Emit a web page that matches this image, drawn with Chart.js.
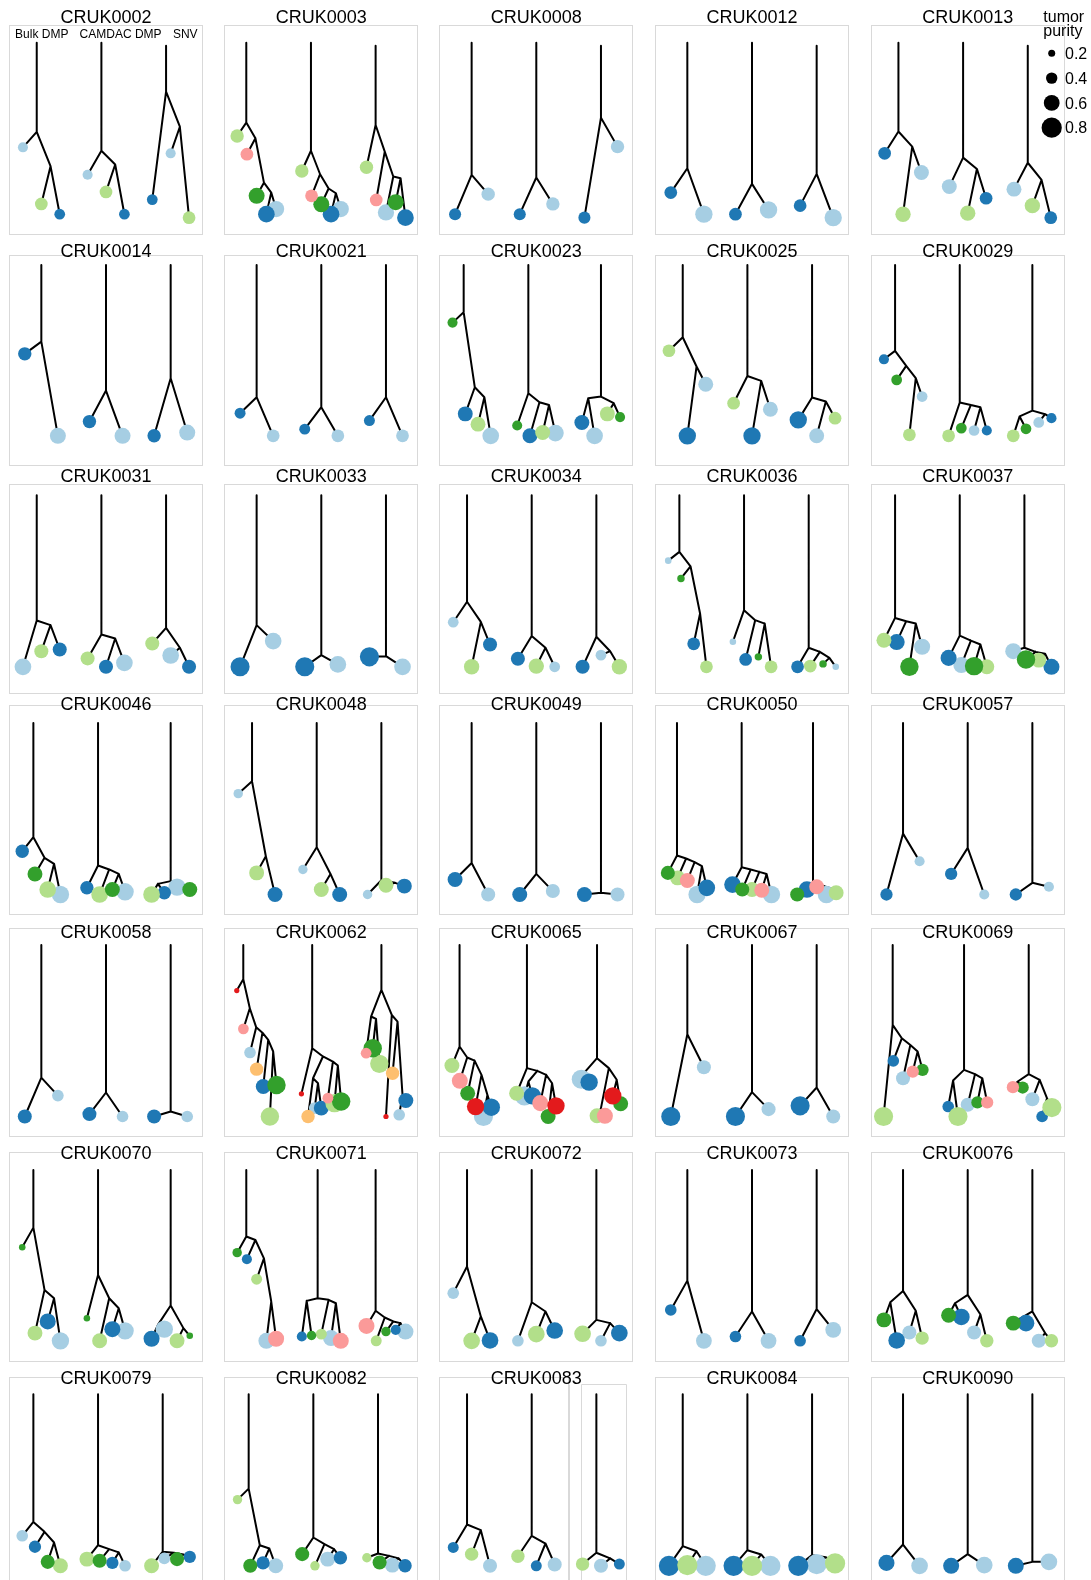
<!DOCTYPE html>
<html>
<head>
<meta charset="utf-8">
<title>Phylogenies per patient: Bulk DMP, CAMDAC DMP and SNV trees</title>
<script src="https://cdn.jsdelivr.net/npm/chart.js@4.4.1/dist/chart.umd.min.js"></script>
<style>
  html, body { margin: 0; padding: 0; background: #fff; overflow: hidden; }
  #fig { position: relative; width: 1091px; height: 1580px; overflow: hidden; background: #fff; }
  #fig canvas { position: absolute; }
</style>
</head>
<body>
<div id="fig"></div>
<script>
// ---------------- data ----------------
const patients = [
  'CRUK0002','CRUK0003','CRUK0008','CRUK0012','CRUK0013',
  'CRUK0014','CRUK0021','CRUK0023','CRUK0025','CRUK0029',
  'CRUK0031','CRUK0033','CRUK0034','CRUK0036','CRUK0037',
  'CRUK0046','CRUK0048','CRUK0049','CRUK0050','CRUK0057',
  'CRUK0058','CRUK0062','CRUK0065','CRUK0067','CRUK0069',
  'CRUK0070','CRUK0071','CRUK0072','CRUK0073','CRUK0076',
  'CRUK0079','CRUK0082','CRUK0083','CRUK0084','CRUK0090'
];
const methodNames = ['Bulk DMP', 'CAMDAC DMP', 'SNV'];
// tumour region colours, region 1..7
const regionColors = ['#a6cee3', '#1f78b4', '#b2df8a', '#33a02c', '#fb9a99', '#e31a1c', '#fdbf6f'];
const purityTicks = [0.2, 0.4, 0.6, 0.8];

// tumour purity of each region (index = region - 1), one list per patient
const purities = [
  [0.34, 0.37, 0.46],
  [0.62, 0.64, 0.49, 0.61, 0.46],
  [0.49, 0.43],
  [0.67, 0.46],
  [0.56, 0.46, 0.58],
  [0.61, 0.49],
  [0.46, 0.38],
  [0.64, 0.56, 0.56, 0.34],
  [0.56, 0.67, 0.46],
  [0.37, 0.34, 0.46, 0.37],
  [0.64, 0.52, 0.52],
  [0.64, 0.75],
  [0.37, 0.52, 0.58],
  [0.18, 0.46, 0.46, 0.22],
  [0.61, 0.61, 0.56, 0.72],
  [0.67, 0.49, 0.64, 0.56],
  [0.31, 0.56, 0.56],
  [0.52, 0.56],
  [0.67, 0.64, 0.56, 0.52, 0.56],
  [0.34, 0.44],
  [0.41, 0.52],
  [0.41, 0.56, 0.72, 0.72, 0.37, 0.12, 0.49],
  [0.75, 0.67, 0.56, 0.56, 0.61, 0.67],
  [0.52, 0.75],
  [0.52, 0.41, 0.75, 0.44, 0.44],
  [0.67, 0.61, 0.56, 0.18],
  [0.61, 0.34, 0.38, 0.31, 0.61],
  [0.41, 0.64, 0.64],
  [0.60, 0.41],
  [0.52, 0.64, 0.49, 0.56],
  [0.41, 0.44, 0.56, 0.52],
  [0.56, 0.49, 0.31, 0.52],
  [0.52, 0.38, 0.49],
  [0.80, 0.80, 0.80],
  [0.64, 0.61]
];

// Trees in a Newick-like form: leaves are region numbers, the value after ':'
// is the depth of the node below the root (0 = top of trunk, 1 = deepest tip).
const bulkTrees = [
  '(1:0.61,(3:0.94,2:1):0.72):0.52',
  '(3:0.544,(5:0.65,(4:0.893,(2:1,1:0.97):0.874):0.816):0.557):0.466',
  '(2:1,1:0.883):0.771',
  '(2:0.874,1:1):0.732',
  '(2:0.645,(3:1,1:0.757):0.606):0.518',
  '(2:0.518,1:0.996):0.447',
  '(2:0.864,1:0.996):0.771',
  '(4:0.336,(2:0.868,(3:0.928,1:0.996):0.771):0.713):0.276',
  '(3:0.5,(2:0.996,1:0.695):0.592):0.421',
  '(2:0.55,(4:0.67,(3:0.99,1:0.767):0.66):0.588):0.501',
  '(1:1,(3:0.909,2:0.899):0.757):0.73',
  '(2:1,1:0.85):0.757',
  '(1:0.74,(3:1,2:0.87):0.738):0.621',
  '(1:0.381,(4:0.485,(2:0.866,3:1):0.689):0.414):0.33',
  '(3:0.845,(2:0.856,(4:1,1:0.883):0.748):0.734):0.715',
  '(2:0.748,(4:0.88,(3:0.971,1:1):0.821):0.786):0.666',
  '(1:0.412,(3:0.874,2:1):0.777):0.34',
  '(2:0.913,1:1):0.816',
  '(4:0.874,(3:0.903,(5:0.918,(1:1,2:0.961):0.835):0.811):0.79):0.773',
  '(2:1,1:0.806):0.645',
  '(2:1,1:0.878):0.773',
  '(6:0.266,(5:0.489,(1:0.627,(7:0.724,(2:0.825,(3:1,4:0.816):0.621):0.553):0.511):0.48):0.369):0.2',
  '(3:0.703,(5:0.792,(4:0.864,(6:0.942,(1:1,2:0.946):0.874):0.757):0.674):0.656):0.592',
  '(2:1,1:0.713):0.52',
  '(3:1,(2:0.676,(1:0.777,(5:0.738,4:0.728):0.621):0.583):0.544):0.466',
  '(4:0.45,(3:0.951,(2:0.883,1:0.996):0.748):0.699):0.336',
  '(4:0.482,(2:0.52,(3:0.637,(1:0.996,5:0.984):0.767):0.515):0.408):0.388',
  '(1:0.718,(3:0.996,2:0.994):0.854):0.563',
  '(2:0.816,1:0.996):0.645',
  '((4:0.874,2:0.994):0.771,(1:0.948,3:0.98):0.821):0.705',
  '(1:0.825,(2:0.889,(4:0.977,3:1):0.864):0.802):0.744',
  '(3:0.614,(4:1,(2:0.983,1:1):0.899):0.88):0.55',
  '(2:0.893,(3:0.932,1:1):0.792):0.759',
  '(2:1,(3:0.996,1:1):0.915):0.885',
  '(2:0.983,1:1):0.876'
];
const camdacTrees = [
  '(1:0.77,(3:0.87,2:1):0.71):0.63',
  '(3:0.748,(5:0.893,(4:0.942,(2:1,1:0.97):0.878):0.85):0.767):0.63',
  '(2:1,1:0.94):0.786',
  '(2:1,1:0.975):0.823',
  '(1:0.839,(3:0.994,2:0.907):0.736):0.67',
  '(2:0.913,1:0.996):0.732',
  '(2:0.957,1:0.996):0.829',
  '(4:0.936,(2:0.996,(3:0.977,1:0.98):0.816):0.8):0.748',
  '(3:0.806,(2:0.996,1:0.841):0.676):0.647',
  '(3:0.996,(4:0.951,(1:0.965,2:0.965):0.829):0.816):0.802',
  '(3:0.951,(2:1,1:0.977):0.835):0.812',
  '(2:1,1:0.986):0.932',
  '(2:0.953,(3:0.996,1:1):0.889):0.821',
  '(1:0.854,(2:0.957,(4:0.942,3:1):0.748):0.728):0.67',
  '(2:0.948,(1:0.99,(4:0.996,3:1):0.87):0.847):0.818',
  '(2:0.961,(3:1,(4:0.971,1:0.984):0.88):0.854):0.831',
  '(1:0.854,(3:0.971,2:1):0.88):0.724',
  '(2:1,1:0.98):0.88',
  '(2:0.942,(4:0.971,(3:0.971,(5:0.975,1:1):0.88):0.868):0.854):0.841',
  '(2:0.88,1:1):0.728',
  '(2:0.986,1:1):0.86',
  '(6:0.868,((7:1,(1:0.951,2:0.951):0.806):0.777,(5:0.893,(3:0.922,4:0.913):0.703):0.68):0.65):0.602',
  '(3:0.864,((1:0.88,2:0.88):0.796,(5:0.922,(4:1,6:0.938):0.806):0.757):0.734):0.718',
  '(2:1,1:0.957):0.858',
  '((2:0.942,3:1):0.79,(1:0.932,(4:0.918,5:0.918):0.777):0.753):0.728',
  '(4:0.864,(3:0.996,(2:0.928,1:0.938):0.806):0.748):0.612',
  '((2:0.971,4:0.965):0.763,(3:0.957,(1:0.98,5:0.996):0.777):0.757):0.748',
  '(1:0.996,(3:0.957,2:0.936):0.825):0.771',
  '(2:0.971,1:0.996):0.825',
  '((4:0.847,2:0.857):0.777,(1:0.948,3:0.996):0.843):0.728',
  '(3:0.961,(4:0.971,(2:0.983,1:1):0.922):0.903):0.88',
  '(4:0.932,(3:1,(1:0.961,2:0.953):0.903):0.874):0.835',
  '(3:0.944,(2:1,1:0.992):0.87):0.825',
  '(2:1,(3:1,1:1):0.934):0.909',
  '(2:1,1:0.996):0.932'
];
const snvTrees = [
  '(2:0.915,(1:0.645,3:1.02):0.49):0.285',
  '(3:0.726,(5:0.917,(1:0.99,(4:0.93,2:1.02):0.79):0.78):0.635):0.48',
  '(2:1.02,1:0.606):0.437',
  '(2:0.95,1:1.02):0.765',
  '(1:0.854,(3:0.95,2:1.02):0.8):0.7',
  '(2:0.996,1:0.977):0.66',
  '(2:0.907,1:0.996):0.771',
  '((2:0.918,1:0.996):0.777,(3:0.868,4:0.887):0.806):0.767',
  '(2:0.903,(1:0.996,3:0.893):0.796):0.773',
  '((3:0.996,4:0.955):0.883,(1:0.918,2:0.893):0.87):0.849',
  '(3:0.864,(1:0.934,2:1):0.889):0.773',
  '(2:0.942,1:1):0.938',
  '(2:1,(1:0.932,3:1):0.909):0.825',
  '(2:1,(3:0.996,(4:0.983,1:1):0.948):0.913):0.889',
  '(1:0.909,(4:0.957,(3:0.961,2:1):0.924):0.913):0.889',
  '((3:1,2:0.99):0.938,(1:0.957,4:0.971):0.942):0.922',
  '(1:1,(3:0.946,2:0.951):0.932):0.917',
  '(2:1,1:1):0.99',
  '((4:1,2:0.971):0.951,(5:0.955,(1:1,3:0.99):0.965):0.951):0.942',
  '(2:1,1:0.955):0.932',
  '(2:1,1:1):0.971',
  '((5:0.631,(4:0.602,3:0.693):0.431):0.417,(6:1,(7:0.748,(1:0.99,2:0.907):0.874):0.447):0.408):0.262',
  '((1:0.783,2:0.8):0.738,((3:0.996,5:0.996):0.951,(6:0.88,4:0.926):0.786):0.718):0.66',
  '(2:0.938,1:1):0.831',
  '((5:0.829,4:0.831):0.796,(1:0.899,(2:1,3:0.948):0.893):0.786):0.753',
  '((2:0.984,1:0.928):0.903,(3:0.996,4:0.967):0.922):0.79',
  '(5:0.909,(3:0.996,(4:0.942,(2:0.932,1:0.942):0.893):0.883):0.86):0.821',
  '(3:0.955,(1:0.996,2:0.951):0.893):0.874',
  '(2:0.996,1:0.932):0.811',
  '((4:0.893,2:0.893):0.868,(1:0.996,3:0.996):0.951):0.825',
  '(3:1,(1:0.957,(4:0.961,2:0.948):0.934):0.924):0.918',
  '(3:0.953,(4:0.981,(1:0.996,2:1):0.957):0.942):0.928',
  '(3:0.99,(1:1,2:0.99):0.957):0.924',
  '(2:1,(1:0.99,3:0.986):0.95):0.938',
  '(2:1,1:0.977):0.977'
];

// ---------------- layout ----------------
const FONT = '"Liberation Sans", Arimo, Arial, Helvetica, sans-serif';
const COL_LEFT = [9, 224.3, 439.3, 655, 870.7];
const BOX_W = 194;
// snvTrunk: depth at which the SNV trunk starts in that row
const ROWS = [
  { boxTop: 25.3,   boxBottom: 235,    trunkTop: 42.7,   titleBase: 23,     snvTrunk: 0.018 },
  { boxTop: 255,    boxBottom: 466,    trunkTop: 265,    titleBase: 256.7,  snvTrunk: 0 },
  { boxTop: 484,    boxBottom: 694,    trunkTop: 495.3,  titleBase: 482,    snvTrunk: 0 },
  { boxTop: 705.3,  boxBottom: 914.7,  trunkTop: 723,    titleBase: 709.7,  snvTrunk: 0 },
  { boxTop: 927.7,  boxBottom: 1136.7, trunkTop: 945,    titleBase: 937.7,  snvTrunk: 0 },
  { boxTop: 1152.3, boxBottom: 1361.7, trunkTop: 1170,   titleBase: 1159.3, snvTrunk: 0 },
  { boxTop: 1377,   boxBottom: 1584,   trunkTop: 1394.3, titleBase: 1384.3, snvTrunk: 0 }
];
const DEPTH_PX = 171.5;          // pixels from trunk top to deepest tip
const X_MIN = -0.5, X_MAX = 2.5; // three tree slots centred on 0, 1, 2
const TIP_SPREAD = 0.64;
const METHOD_LABEL_X = [0.006, 1.225, 2.226];
const METHOD_LABEL_BASE = 37.7;

Chart.defaults.font.family = FONT;

function radiusFor(p) { return 1.3 + 11 * p; }

function parseTree(s) {
  let i = 0;
  function node() {
    const n = { children: [] };
    if (s[i] === '(') {
      i++;
      n.children.push(node());
      while (s[i] === ',') { i++; n.children.push(node()); }
      i++; // ')'
    } else {
      const j = i;
      while (i < s.length && /[0-9]/.test(s[i])) i++;
      n.region = parseInt(s.slice(j, i), 10);
    }
    if (s[i] === ':') {
      i++;
      const j = i;
      while (i < s.length && /[0-9.]/.test(s[i])) i++;
      n.depth = parseFloat(s.slice(j, i));
    }
    return n;
  }
  return node();
}

// cladogram layout: leaves evenly spaced, inner nodes at the mean of their children
function layoutTree(root, slot, trunkStart, edges, tips, pur) {
  const leaves = [];
  (function collect(n) { if (n.children.length) n.children.forEach(collect); else leaves.push(n); })(root);
  const n = leaves.length;
  const span = n > 1 ? TIP_SPREAD * (n - 1) / (n - 0.75) : 0;
  leaves.forEach((l, k) => { l.x = slot - span / 2 + (n > 1 ? span * k / (n - 1) : 0); });
  (function place(nd) {
    if (!nd.children.length) return;
    nd.children.forEach(place);
    nd.x = nd.children.reduce((a, c) => a + c.x, 0) / nd.children.length;
  })(root);
  edges.push({ x: root.x, y: trunkStart }, { x: root.x, y: root.depth }, { x: null, y: null });
  (function walk(nd) {
    nd.children.forEach(c => {
      edges.push({ x: nd.x, y: nd.depth }, { x: c.x, y: c.depth }, { x: null, y: null });
      walk(c);
    });
  })(root);
  leaves.forEach(l => tips.push({ x: l.x, y: l.depth, r: radiusFor(pur[l.region - 1]), region: l.region }));
}

// frame, title and method labels of a panel
const panelFrame = {
  id: 'panelFrame',
  beforeDatasetsDraw(chart, args, o) {
    const ctx = chart.ctx, a = chart.chartArea;
    ctx.save();
    ctx.strokeStyle = '#d9d9d9';
    ctx.lineWidth = 1;
    const l = Math.round(a.left) + 0.5, t = Math.round(a.top) + 0.5;
    const r = Math.round(a.left + o.boxWidth) - 0.5, b = Math.round(a.bottom) - 0.5;
    ctx.strokeRect(l, t, r - l, b - t);
    if (o.inset) {
      const x0 = Math.round(a.left + o.inset.rule) + 0.5;
      const x1 = Math.round(a.left + o.inset.left) + 0.5;
      const x2 = Math.round(a.left + o.inset.right) + 0.5;
      const y0 = Math.round(a.top + o.inset.top) + 0.5;
      ctx.beginPath();
      ctx.moveTo(x0, y0); ctx.lineTo(x0, b);
      ctx.moveTo(x1, b); ctx.lineTo(x1, y0); ctx.lineTo(x2, y0); ctx.lineTo(x2, b);
      ctx.stroke();
    }
    ctx.restore();
  },
  afterDraw(chart, args, o) {
    const ctx = chart.ctx, a = chart.chartArea;
    ctx.save();
    ctx.fillStyle = '#000';
    ctx.textAlign = 'center';
    ctx.textBaseline = 'alphabetic';
    ctx.font = '18px ' + FONT;
    ctx.fillText(o.title, (a.left + a.right) / 2, o.titleY);
    if (o.methodY !== undefined) {
      ctx.font = '12px ' + FONT;
      methodNames.forEach((m, k) => {
        ctx.fillText(m, chart.scales.x.getPixelForValue(METHOD_LABEL_X[k]), o.methodY);
      });
    }
    ctx.restore();
  }
};

const fig = document.getElementById('fig');

patients.forEach((id, idx) => {
  const row = ROWS[Math.floor(idx / 5)];
  const boxLeft = COL_LEFT[idx % 5];
  const trees = [bulkTrees[idx], camdacTrees[idx], snvTrees[idx]].map(parseTree);
  const edges = [], tips = [];
  trees.forEach((t, k) => layoutTree(t, k, k === 2 ? row.snvTrunk : 0, edges, tips, purities[idx]));
  tips.sort((p, q) => p.region - q.region);

  const cLeft = Math.round(boxLeft) - 10;
  const cTop = Math.round(row.boxTop) - 32;
  const cW = BOX_W + 20;
  const cH = Math.round(row.boxBottom) - Math.round(row.boxTop) + 36;
  const cv = document.createElement('canvas');
  cv.width = cW; cv.height = cH;
  cv.style.left = cLeft + 'px'; cv.style.top = cTop + 'px';
  cv.style.width = cW + 'px'; cv.style.height = cH + 'px';
  fig.appendChild(cv);

  const padTop = row.boxTop - cTop;
  const padBottom = cH - (row.boxBottom - cTop);
  const yMin = (row.boxTop - row.trunkTop) / DEPTH_PX;
  const yMax = (row.boxBottom - row.trunkTop) / DEPTH_PX;

  const frameOpts = {
    title: id,
    titleY: row.titleBase - cTop,
    boxWidth: BOX_W
  };
  if (idx === 0) frameOpts.methodY = METHOD_LABEL_BASE - cTop;
  if (id === 'CRUK0083') {
    frameOpts.boxWidth = 130;
    frameOpts.inset = { rule: 130, left: 141.4, right: 186.7, top: 6.7 };
  }

  new Chart(cv, {
    type: 'scatter',
    data: {
      datasets: [
        {
          type: 'bubble',
          data: tips,
          order: 0,
          clip: false,
          backgroundColor: c => regionColors[c.raw.region - 1],
          borderWidth: 0,
          hoverBorderWidth: 0,
          hoverRadius: 0
        },
        {
          type: 'line',
          data: edges,
          order: 1,
          clip: false,
          showLine: true,
          spanGaps: false,
          tension: 0,
          borderColor: '#000',
          borderWidth: 2,
          borderCapStyle: 'round',
          borderJoinStyle: 'round',
          pointRadius: 0,
          pointHoverRadius: 0,
          fill: false
        }
      ]
    },
    options: {
      responsive: false,
      animation: false,
      devicePixelRatio: 1,
      events: [],
      layout: {
        autoPadding: false,
        padding: { left: boxLeft - cLeft, right: cW - (boxLeft - cLeft) - BOX_W, top: padTop, bottom: padBottom }
      },
      plugins: { legend: { display: false }, tooltip: { enabled: false }, panelFrame: frameOpts },
      scales: {
        x: { type: 'linear', display: false, min: X_MIN, max: X_MAX },
        y: { type: 'linear', display: false, reverse: true, min: yMin, max: yMax }
      }
    },
    plugins: [panelFrame]
  });
});

// ---------------- purity size legend ----------------
(function () {
  const cLeft = 1032, cTop = 0, cW = 59, cH = 145;
  const cv = document.createElement('canvas');
  cv.width = cW; cv.height = cH;
  cv.style.left = cLeft + 'px'; cv.style.top = cTop + 'px';
  cv.style.width = cW + 'px'; cv.style.height = cH + 'px';
  fig.appendChild(cv);
  const centreX = 1051.7 - cLeft;     // pixel column of the legend circles
  const legendText = {
    id: 'legendText',
    afterDraw(chart) {
      const ctx = chart.ctx, ys = chart.scales.y;
      ctx.save();
      ctx.fillStyle = '#000';
      ctx.textAlign = 'left';
      ctx.textBaseline = 'alphabetic';
      ctx.font = '16px ' + FONT;
      ctx.fillText('tumor', 1043.3 - cLeft, 21.5);
      ctx.fillText('purity', 1043.3 - cLeft, 35.5);
      purityTicks.forEach(p => {
        ctx.fillText(p.toFixed(1), 1065 - cLeft, ys.getPixelForValue(p) + 5.7);
      });
      ctx.restore();
    }
  };
  new Chart(cv, {
    type: 'bubble',
    data: {
      datasets: [{
        data: purityTicks.map(p => ({ x: 0, y: p, r: radiusFor(p) })),
        backgroundColor: '#000',
        borderWidth: 0,
        clip: false
      }]
    },
    options: {
      responsive: false,
      animation: false,
      devicePixelRatio: 1,
      events: [],
      layout: { autoPadding: false, padding: { left: 0, right: cW - 2 * centreX, top: 0, bottom: 0 } },
      plugins: { legend: { display: false }, tooltip: { enabled: false } },
      scales: {
        x: { type: 'linear', display: false, min: -1, max: 1 },
        y: { type: 'linear', display: false, reverse: true, min: 0.2 - 53.3 / 124, max: 0.2 + (cH - 53.3) / 124 }
      }
    },
    plugins: [legendText]
  });
})();
</script>
</body>
</html>
